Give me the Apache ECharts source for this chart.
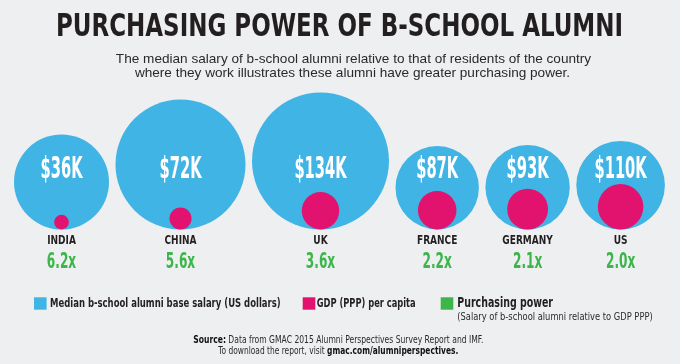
<!DOCTYPE html>
<html>
<head>
<meta charset="utf-8">
<script src="https://cdn.jsdelivr.net/npm/echarts@6/dist/echarts.min.js"></script>
<style>
html,body{margin:0;padding:0;background:#edeff0;}
#chart{width:680px;height:364px;}
</style>
</head>
<body>
<div id="chart"></div>
<script>
// ---- data ----
const countries = ['INDIA', 'CHINA', 'UK', 'FRANCE', 'GERMANY', 'US'];
const salaryK = [36, 72, 134, 87, 93, 110];            // median b-school alumni base salary, US$ thousands
const gdpPppK = [5.8, 12.9, 37.2, 39.5, 44.3, 55.0];   // GDP (PPP) per capita, thousands
const purchasingPower = [6.2, 5.6, 3.6, 2.2, 2.1, 2.0];
const legendNames = ['Median b-school alumni base salary (US dollars)', 'GDP (PPP) per capita', 'Purchasing power'];
const legendNote = '(Salary of b-school alumni relative to GDP PPP)';
const titleText = 'PURCHASING POWER OF B-SCHOOL ALUMNI';
const subtitleLines = ['The median salary of b-school alumni relative to that of residents of the country',
                       'where they work illustrates these alumni have greater purchasing power.'];
const sourceLines = [['Source:', ' Data from GMAC 2015 Alumni Perspectives Survey Report and IMF.'],
                     ['To download the report, visit ', 'gmac.com/alumniperspectives.']];

// ---- layout / style (not data) ----
const layout = {
  startX: 14, gap: 6.5, baseline: 229.5,
  blueR: [47.5, 65, 68.5, 41.7, 42.2, 44.3],   // decorative bubble radii as drawn in the infographic
  pinkK: 3.07,                                 // pink radius = k * sqrt(GDP) (area-proportional)
  salaryY: 170, countryY: 241.2, multY: 262.5
};
const colors = { blue: '#40b4e5', pink: '#e2136f', green: '#3db54a', ink: '#231f20', text: '#2a2a2a', bg: '#edeff0' };
const COND = '"DejaVu Sans Condensed", "DejaVu Sans", sans-serif';
const SANS = '"Liberation Sans", Arial, sans-serif';

// text measuring, used to condense text horizontally to the infographic's narrow type
const mctx = document.createElement('canvas').getContext('2d');
function tw(text, weight, size, family) { mctx.font = weight + ' ' + size + 'px ' + family; return mctx.measureText(text).width; }
function fit(target, natural) { return target / natural; }

const fonts = {
  title: { w: 'bold', s: 32 }, salary: { w: 'bold', s: 31 }, country: { w: 'bold', s: 12.5 },
  mult: { w: 'bold', s: 20.5 }, leg: { w: 'bold', s: 13 }, leg3: { w: 'bold', s: 14.5 },
  note: { w: 'normal', s: 10 }, src: { s: 9.8 }
};
const sx = {
  title: fit(567, tw(titleText, 'bold', 32, COND)),
  salary: fit(42, tw('$' + salaryK[0] + 'K', 'bold', 31, COND)),
  country: fit(28.7, tw(countries[0], 'bold', 12.5, COND)),
  mult: fit(29.3, tw(purchasingPower[0].toFixed(1) + 'x', 'bold', 20.5, COND)),
  leg0: fit(230.7, tw(legendNames[0], 'bold', 13, COND)),
  leg1: fit(99, tw(legendNames[1], 'bold', 13, COND)),
  leg2: fit(95.7, tw(legendNames[2], 'bold', 14.5, COND)),
  note: fit(195.4, tw(legendNote, 'normal', 10, COND)),
  src0: fit(290, tw(sourceLines[0][0], 'bold', 9.8, COND) + tw(sourceLines[0][1], 'normal', 9.8, COND)),
  src1: fit(240, tw(sourceLines[1][0], 'normal', 9.8, COND) + tw(sourceLines[1][1], 'bold', 9.8, COND))
};

// pack the bubbles side by side
const centers = [];
(function () {
  let cur = layout.startX;
  layout.blueR.forEach((r, i) => { cur += (i ? layout.gap : 0) + r; centers.push(cur); cur += r; });
})();
const rows = countries.map((c, i) => [centers[i], layout.baseline, i]);

function txt(x, y, text, opt) {
  return {
    type: 'text', x: x, y: y, scaleX: opt.scaleX || 1, silent: true,
    style: Object.assign({
      text: text, fill: opt.fill || colors.ink, fontFamily: opt.family || COND,
      fontWeight: opt.weight || 'normal', fontSize: opt.size,
      textAlign: opt.align || 'left', align: opt.align || 'left',
      textVerticalAlign: 'middle', verticalAlign: 'middle'
    }, opt.extra || {})
  };
}

const chart = echarts.init(document.getElementById('chart'), null, { renderer: 'canvas' });

const legendRects = [[34, 297.3], [302.7, 297.3], [440.7, 297.3]].map((p, i) => ({
  type: 'rect', silent: true, shape: { x: p[0], y: p[1], width: 12.6, height: 12.4 },
  style: { fill: [colors.blue, colors.pink, colors.green][i] }
}));

chart.setOption({
  backgroundColor: colors.bg,
  animation: false,
  graphic: { elements: [
    txt(339.5, 27.5, titleText, { weight: 'bold', size: 32, align: 'center', scaleX: sx.title }),
    txt(353.5, 59.2, subtitleLines[0], { family: SANS, size: 13.6, align: 'center', fill: colors.text }),
    txt(352.5, 72.9, subtitleLines[1], { family: SANS, size: 13.6, align: 'center', fill: colors.text }),
    ...legendRects,
    txt(50, 303.7, legendNames[0], { weight: 'bold', size: 13, scaleX: sx.leg0 }),
    txt(316.7, 303.7, legendNames[1], { weight: 'bold', size: 13, scaleX: sx.leg1 }),
    txt(457.3, 303, legendNames[2], { weight: 'bold', size: 14.5, scaleX: sx.leg2 }),
    txt(457.3, 317, legendNote, { size: 10, scaleX: sx.note, fill: colors.text }),
    txt(338.3, 340, '{b|' + sourceLines[0][0] + '}{r|' + sourceLines[0][1] + '}', { size: 9.8, align: 'center', scaleX: sx.src0,
      extra: { rich: { b: { fontFamily: COND, fontWeight: 'bold', fontSize: 9.8, fill: '#111' }, r: { fontFamily: COND, fontSize: 9.8, fill: colors.text } } } }),
    txt(338.3, 351, '{r|' + sourceLines[1][0] + '}{b|' + sourceLines[1][1] + '}', { size: 9.8, align: 'center', scaleX: sx.src1,
      extra: { rich: { b: { fontFamily: COND, fontWeight: 'bold', fontSize: 9.8, fill: '#111' }, r: { fontFamily: COND, fontSize: 9.8, fill: colors.text } } } })
  ] },
  grid: { left: 0, right: 0, top: 0, bottom: 0 },
  xAxis: { type: 'value', min: 0, max: 680, show: false },
  yAxis: { type: 'value', min: 0, max: 364, inverse: true, show: false },
  series: [
    {
      name: legendNames[0], type: 'custom', itemStyle: { color: colors.blue }, data: rows,
      renderItem: function (params, api) {
        const i = api.value(2);
        const c = api.coord([api.value(0), api.value(1)]);
        const r = layout.blueR[i];
        const ty = api.coord([0, layout.salaryY])[1];
        return { type: 'group', children: [
          { type: 'circle', shape: { cx: c[0], cy: c[1] - r, r: r }, style: { fill: colors.blue } },
          txt(c[0], ty, '$' + salaryK[i] + 'K', { weight: 'bold', size: 31, align: 'center', scaleX: sx.salary, fill: '#ffffff' })
        ] };
      }
    },
    {
      name: legendNames[1], type: 'custom', itemStyle: { color: colors.pink }, data: rows,
      renderItem: function (params, api) {
        const i = api.value(2);
        const c = api.coord([api.value(0), api.value(1)]);
        const r = layout.pinkK * Math.sqrt(gdpPppK[i]);
        return { type: 'circle', shape: { cx: c[0], cy: c[1] - r, r: r }, style: { fill: colors.pink } };
      }
    },
    {
      name: legendNames[2], type: 'custom', itemStyle: { color: colors.green }, data: rows,
      renderItem: function (params, api) {
        const i = api.value(2);
        const x = api.coord([api.value(0), 0])[0];
        const cy = api.coord([0, layout.countryY])[1];
        const my = api.coord([0, layout.multY])[1];
        return { type: 'group', children: [
          txt(x, cy, countries[i], { weight: 'bold', size: 12.5, align: 'center', scaleX: sx.country }),
          txt(x, my, purchasingPower[i].toFixed(1) + 'x', { weight: 'bold', size: 20.5, align: 'center', scaleX: sx.mult, fill: colors.green })
        ] };
      }
    }
  ]
});
</script>
</body>
</html>
